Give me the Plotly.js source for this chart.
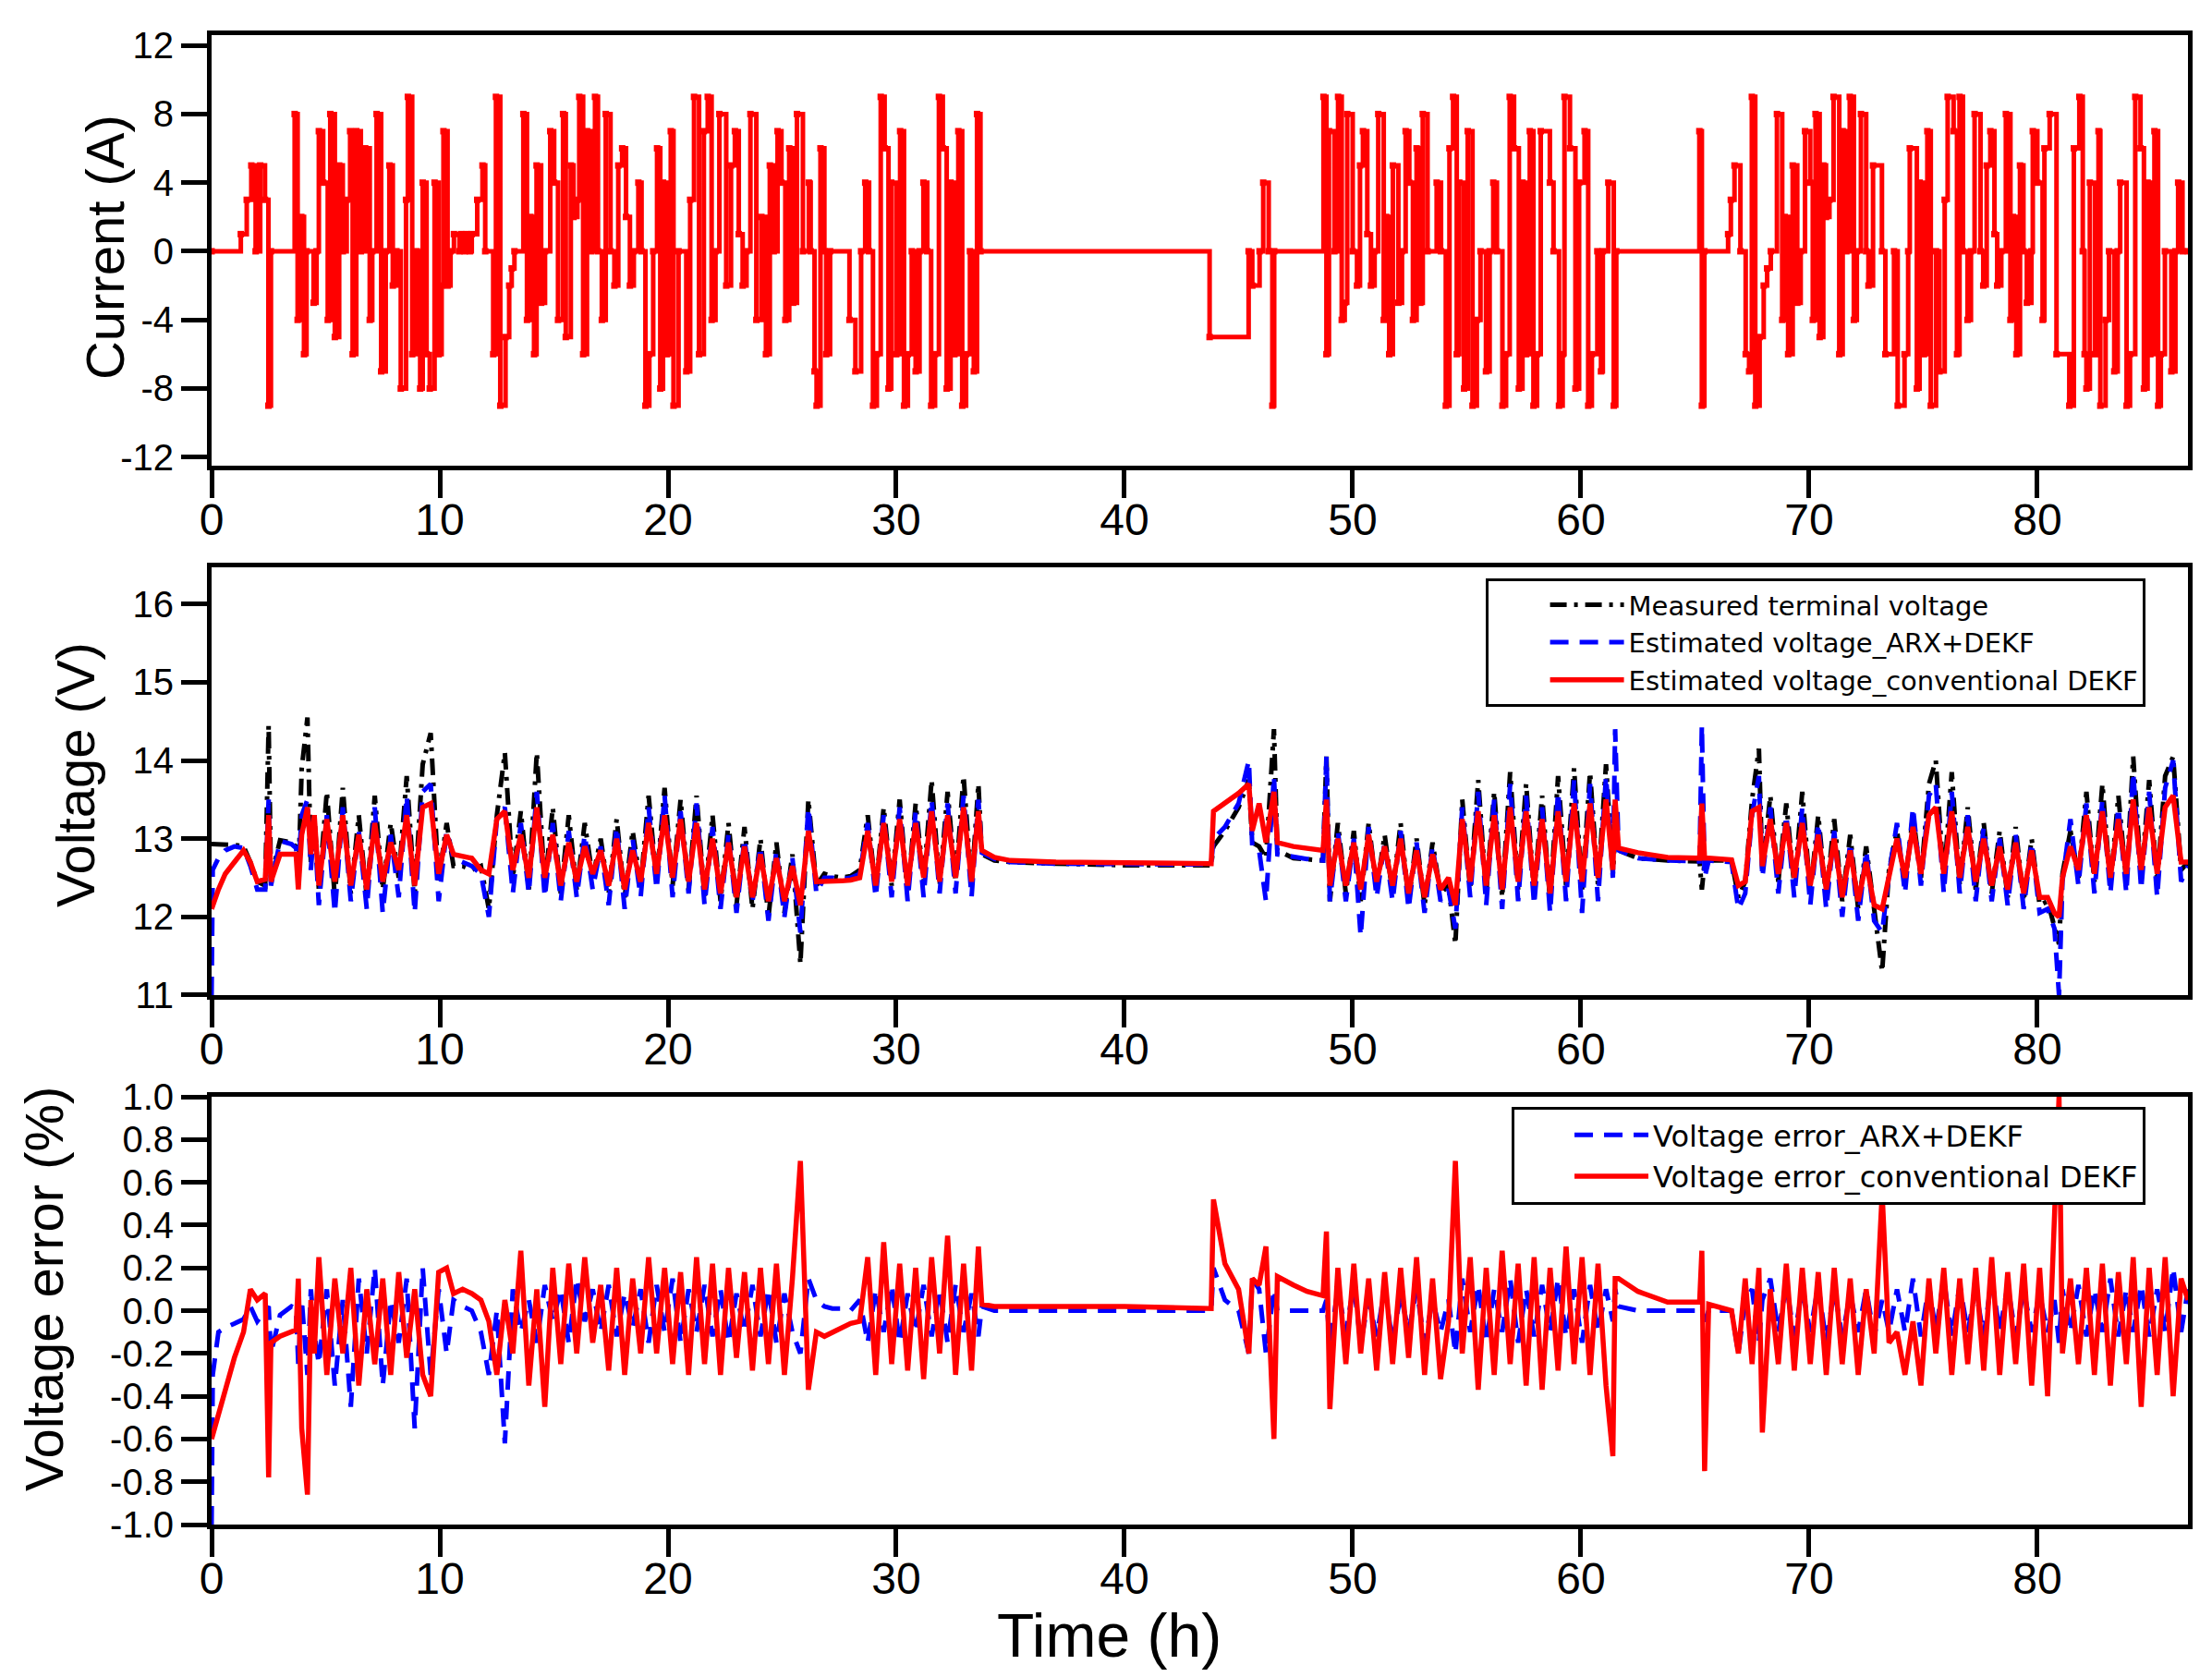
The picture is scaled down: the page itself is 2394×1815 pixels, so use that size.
<!DOCTYPE html>
<html>
<head>
<meta charset="utf-8">
<script src="https://cdn.plot.ly/plotly-3.0.1.min.js"></script>
<style>html,body{margin:0;padding:0;background:#fff}#chart{width:2394px;height:1815px}</style>
</head>
<body>
<div id="chart"></div>
<script>
// ---------- Current profile (A), step signal ----------
const timeCurrent = [
0, 1.28, 1.54, 1.74, 1.93, 2.13, 2.34, 2.49, 2.6, 3.64,
3.77, 3.93, 4.05, 4.16, 4.47, 4.6, 4.7, 4.89, 5.09, 5.2,
5.4, 5.59, 5.75, 5.92, 6.07, 6.18, 6.34, 6.54, 6.73, 6.93,
7.04, 7.23, 7.43, 7.63, 7.79, 7.94, 8.1, 8.29, 8.52, 8.6,
8.79, 8.99, 9.14, 9.25, 9.42, 9.56, 9.77, 9.95, 10.08, 10.16,
10.34, 10.47, 10.62, 10.86, 10.93, 11.09, 11.17, 11.32, 11.4, 11.64,
11.87, 11.99, 12.34, 12.46, 12.65, 12.88, 13.04, 13.15, 13.27, 13.66,
13.82, 13.97, 14.13, 14.24, 14.44, 14.61, 14.84, 15.01, 15.18, 15.40,
15.52, 15.74, 15.86, 16.03, 16.11, 16.28, 16.45, 16.63, 16.80, 16.93,
17.10, 17.27, 17.48, 17.65, 17.82, 17.99, 18.16, 18.33, 18.50, 18.70,
18.84, 19.01, 19.18, 19.35, 19.52, 19.66, 19.78, 19.95, 20.12, 20.24,
20.46, 20.80, 20.97, 21.14, 21.36, 21.57, 21.74, 21.91, 22.08, 22.25,
22.55, 22.76, 22.93, 23.10, 23.27, 23.44, 23.61, 23.87, 24.09, 24.29,
24.46, 24.63, 24.80, 24.97, 25.14, 25.31, 25.48, 25.65, 25.91, 26.17,
26.25, 26.42, 26.51, 26.68, 26.85, 26.93, 27.10, 27.95, 28.21, 28.46,
28.64, 28.81, 28.98, 29.15, 29.32, 29.49, 29.66, 29.78, 30.00, 30.17,
30.34, 30.51, 30.68, 30.85, 31.02, 31.19, 31.36, 31.53, 31.70, 31.87,
32.04, 32.21, 32.38, 32.55, 32.72, 32.89, 33.06, 33.23, 33.40, 33.54,
33.69, 43.73, 45.44, 45.60, 45.92, 46.08, 46.32, 46.48, 46.56, 48.72,
48.85, 48.96, 49.20, 49.36, 49.52, 49.65, 49.76, 50.00, 50.19, 50.32,
50.45, 50.64, 50.80, 50.96, 51.12, 51.36, 51.47, 51.60, 51.76, 52.00,
52.16, 52.32, 52.48, 52.64, 52.80, 52.96, 53.07, 53.28, 53.68, 53.87,
54.08, 54.24, 54.40, 54.56, 54.67, 54.88, 55.04, 55.25, 55.44, 55.60,
55.84, 56.00, 56.16, 56.32, 56.56, 56.72, 56.88, 57.07, 57.28, 57.44,
57.60, 57.76, 57.92, 58.08, 58.24, 58.64, 58.80, 59.04, 59.20, 59.28,
59.52, 59.76, 59.92, 60.16, 60.32, 60.48, 60.72, 60.88, 60.96, 61.20,
61.44, 61.55, 65.19, 65.30, 65.41, 66.45, 66.57, 66.73, 66.99, 67.22,
67.37, 67.49, 67.64, 67.83, 68.01, 68.16, 68.32, 68.59, 68.82, 68.93,
69.08, 69.28, 69.48, 69.63, 69.82, 70.05, 70.16, 70.28, 70.46, 70.62,
70.74, 70.89, 71.07, 71.32, 71.47, 71.63, 71.78, 71.96, 72.09, 72.27,
72.50, 72.60, 72.80, 73.19, 73.34, 73.72, 73.88, 74.18, 74.34, 74.41,
74.72, 74.84, 75.03, 75.18, 75.33, 75.56, 75.71, 75.94, 76.07, 76.33,
76.48, 76.59, 76.74, 76.94, 77.09, 77.25, 77.51, 77.63, 77.78, 77.94,
78.12, 78.24, 78.42, 78.62, 78.82, 78.93, 79.08, 79.24, 79.39, 79.54,
79.74, 79.80, 80.00, 80.23, 80.31, 80.54, 80.84, 81.40, 81.60,
81.84, 81.99, 82.07, 82.15, 82.30, 82.53, 82.68, 82.76, 82.99, 83.14,
83.37, 83.52, 83.63, 83.91, 84.06, 84.29, 84.52, 84.67, 84.83, 84.95,
85.13, 85.29, 85.41, 85.59, 85.87, 86.05, 86.17, 86.36, 86.6
];
const current = [
0, 1, 3, 5, 0, 5, 3, -9, 0, 8,
-4, 2, -6, 0, -3, 0, 7, 4, -4, 8,
-5, 5, 0, 3, 7, -6, 7, 0, 6, -4,
0, 8, -7, 0, 5, -2, 0, -8, 3, 9,
-6, 0, -8, 4, -6, -8, 4, -6, -2, 7,
-2, 0, 1, 0, 1, 0, 1, 0, 1, 3,
5, 0, -6, 9, -9, -5, -2, -1, 0, 8,
-4, 2, -6, 5, -3, 0, 7, 4, -4, 8,
-5, 5, 2, 3, 9, -6, 7, 0, 9, 0,
-4, 8, 0, -2, 5, 6, 2, -2, 0, 4,
0, -9, -6, 0, 6, -8, 4, -6, 7, -9,
0, -7, 3, 9, -6, 7, 9, -4, 0, 8,
-2, 5, 7, 1, -2, 0, 8, -4, 2, -6,
5, 0, 7, 4, -4, 6, -3, 8, 0, 4,
0, -7, -9, 6, 0, -6, 0, -4, -7, 0,
4, 0, -9, -6, 9, 6, -8, 4, -6, 7,
-9, -6, 0, -7, 0, 4, 0, -9, -6, 9,
6, -8, 4, -6, 7, -9, -6, 0, -7, 8,
0, -5, 0, -2, 0, 4, 0, -9, 0, 9,
-6, 7, 0, 9, -4, -3, 8, 0, -2, 5,
7, 1, -2, 0, 8, -4, 2, -6, 5, -3,
0, 7, 4, -4, 6, -3, 8, 0, 4, 0,
-9, 6, 9, -6, 4, -8, 7, -9, -4, 0,
-7, 0, 4, 0, -9, -6, 9, 6, -8, 4,
-6, 7, -9, -6, 7, 4, 0, -9, -6, 9,
6, -8, 4, 7, -9, -6, 0, -7, 0, 4,
-9, 0, 7, -9, 0, 1, 3, 5, 0, -6,
-7, 9, -9, -5, -2, -1, 0, 8, -4, 2,
-6, 5, -3, 0, 7, 4, -4, 8, -5, 5,
2, 3, 9, -6, 7, 0, 9, -4, 0, 8,
0, -2, 5, 0, -6, 0, -9, -6, 0, 6,
-8, 4, -6, 7, -9, 0, -7, 3, 9, 7,
-6, 9, 0, -4, 0, 8, 0, -2, 5, 7,
1, -2, 0, 8, -4, 2, -6, 5, 0, -3,
0, 7, 4, -4, 6, 8, -6, -9, 6,
9, 0, -6, -8, 4, -6, 7, -9, -4, 0,
-7, 0, 4, -9, -6, 9, 6, -8, 4, -6,
7, -9, -6, 0, -7, 0, 4, 0, 0
];

// ---------- Voltage and voltage error, shared time base (h) ----------
const timeV = [
0, 0.05, 0.3, 0.6, 1.0, 1.4, 1.7, 2.0, 2.35, 2.5,
2.6, 3.0, 3.5, 3.7, 3.8, 3.95, 4.2, 4.35, 4.5, 4.7,
5.05, 5.4, 5.75, 6.1, 6.45, 6.8, 7.15, 7.5, 7.85, 8.2,
8.55, 8.9, 9.25, 9.6, 9.95, 10.3, 10.6, 11.0, 11.4, 11.8,
12.15, 12.5, 12.85, 13.2, 13.55, 13.9, 14.25, 14.6, 14.95, 15.3,
15.65, 16.0, 16.35, 16.7, 17.05, 17.4, 17.75, 18.1, 18.45, 18.8,
19.15, 19.5, 19.85, 20.2, 20.55, 20.9, 21.25, 21.6, 21.95, 22.3,
22.65, 23.0, 23.35, 23.7, 24.05, 24.4, 24.75, 25.1, 25.45, 25.8,
26.15, 26.5, 26.85, 27.2, 27.6, 28.0, 28.4, 28.75, 29.1, 29.45,
29.8, 30.15, 30.5, 30.85, 31.2, 31.55, 31.9, 32.25, 32.6, 32.95,
33.3, 33.6, 33.75, 34.3, 35.0, 37.0, 40.0, 43.8, 43.9, 44.4,
45.0, 45.45, 45.6, 45.9, 46.2, 46.55, 46.7, 47.4, 48.0, 48.7,
48.85, 49.0, 49.35, 49.7, 50.05, 50.35, 50.7, 51.05, 51.4, 51.75,
52.1, 52.45, 52.8, 53.15, 53.5, 53.85, 54.2, 54.5, 54.8, 55.15,
55.5, 55.85, 56.2, 56.55, 56.9, 57.25, 57.6, 57.95, 58.3, 58.65,
59.0, 59.35, 59.7, 60.05, 60.4, 60.75, 61.1, 61.4, 61.5, 61.65,
62.5, 63.8, 65.2, 65.3, 65.42, 65.6, 66.6, 66.9, 67.2, 67.5,
67.8, 67.95, 68.3, 68.65, 69.0, 69.35, 69.7, 70.05, 70.4, 70.75,
71.1, 71.45, 71.8, 72.15, 72.5, 72.85, 73.2, 73.5, 73.85, 74.2,
74.55, 74.9, 75.25, 75.55, 75.9, 76.25, 76.6, 76.95, 77.3, 77.65,
78.0, 78.35, 78.7, 79.05, 79.4, 79.75, 80.1, 80.45, 80.75, 80.95,
81.1, 81.45, 81.8, 82.15, 82.5, 82.85, 83.2, 83.55, 83.9, 84.2,
84.55, 84.9, 85.25, 85.6, 85.95, 86.3, 86.6
];
const vMeasured = [
12.93, 12.93, 12.93, 12.93, 12.92, 12.90, 12.70, 12.45, 12.40, 14.45,
12.50, 12.98, 12.95, 12.90, 12.50, 13.90, 14.55, 12.70, 13.30, 12.35,
13.60, 12.25, 13.65, 12.30, 13.30, 12.25, 13.55, 12.35, 13.20, 12.50,
13.80, 12.30, 13.95, 14.35, 12.45, 13.20, 12.65, 12.65, 12.60, 12.65,
12.10, 13.30, 14.10, 12.50, 13.35, 12.35, 14.10, 12.40, 13.40, 12.30,
13.30, 12.35, 13.20, 12.50, 13.00, 12.30, 13.25, 12.25, 13.10, 12.40,
13.55, 12.45, 13.65, 12.40, 13.50, 12.35, 13.55, 12.25, 13.30, 12.20,
13.20, 12.15, 13.15, 12.10, 13.00, 12.00, 12.95, 12.05, 12.80, 11.40,
13.50, 12.40, 12.55, 12.52, 12.50, 12.52, 12.60, 13.30, 12.35, 13.40,
12.40, 13.50, 12.30, 13.45, 12.45, 13.75, 12.40, 13.60, 12.45, 13.80,
12.40, 13.70, 12.80, 12.72, 12.70, 12.68, 12.66, 12.66, 12.90, 13.10,
13.40, 13.75, 12.95, 12.90, 12.75, 14.40, 12.85, 12.75, 12.73, 12.72,
14.05, 12.20, 13.20, 12.30, 13.10, 12.20, 13.20, 12.35, 13.05, 12.30,
13.20, 12.20, 13.00, 12.15, 12.95, 12.30, 12.40, 11.65, 13.50, 12.35,
13.75, 12.30, 13.60, 12.25, 13.85, 12.35, 13.70, 12.30, 13.55, 12.20,
13.80, 12.40, 13.90, 12.35, 13.85, 12.40, 13.95, 12.55, 13.05, 12.85,
12.75, 12.72, 12.71, 12.35, 12.70, 12.72, 12.72, 12.25, 12.45, 13.50,
14.15, 12.60, 13.55, 12.45, 13.45, 12.40, 13.60, 12.30, 13.30, 12.25,
13.25, 12.20, 13.05, 12.10, 12.90, 12.05, 11.30, 12.60, 13.10, 12.40,
13.30, 12.50, 13.70, 14.00, 12.45, 13.85, 12.40, 13.40, 12.35, 13.20,
12.30, 13.10, 12.25, 13.15, 12.20, 13.00, 12.15, 12.20, 11.90, 11.65,
12.55, 13.10, 12.50, 13.60, 12.45, 13.70, 12.40, 13.55, 12.45, 14.05,
12.50, 13.75, 12.45, 13.80, 14.05, 12.60, 12.70
];
const vArxDekf = [
11.00, 12.60, 12.75, 12.85, 12.90, 12.88, 12.65, 12.35, 12.35, 13.50,
12.40, 12.97, 12.93, 12.88, 12.60, 13.30, 13.50, 12.60, 13.20, 12.15,
13.30, 12.05, 13.40, 12.20, 13.10, 12.10, 13.40, 12.05, 13.05, 12.25,
13.55, 12.05, 13.60, 13.70, 12.20, 13.10, 12.75, 12.70, 12.65, 12.55,
12.00, 13.25, 13.40, 12.30, 13.20, 12.30, 13.60, 12.25, 13.20, 12.20,
13.10, 12.25, 13.05, 12.35, 12.90, 12.15, 13.15, 12.10, 13.00, 12.25,
13.40, 12.35, 13.55, 12.25, 13.35, 12.30, 13.45, 12.15, 13.15, 12.10,
13.05, 12.05, 13.00, 12.20, 12.90, 11.95, 12.85, 12.00, 12.75, 11.80,
13.40, 12.30, 12.50, 12.50, 12.48, 12.50, 12.55, 13.20, 12.25, 13.30,
12.25, 13.40, 12.20, 13.35, 12.25, 13.50, 12.30, 13.45, 12.30, 13.55,
12.25, 13.50, 12.82, 12.74, 12.70, 12.68, 12.67, 12.67, 13.00, 13.15,
13.45, 14.00, 12.90, 12.85, 12.20, 13.80, 12.80, 12.76, 12.74, 12.72,
14.05, 12.20, 13.10, 12.20, 13.00, 11.75, 13.15, 12.25, 12.95, 12.20,
13.10, 12.10, 12.95, 12.05, 12.90, 12.20, 12.35, 11.85, 13.40, 12.25,
13.60, 12.15, 13.50, 12.10, 13.70, 12.20, 13.55, 12.15, 13.40, 12.05,
13.60, 12.20, 13.75, 12.05, 13.70, 12.20, 13.80, 12.50, 14.40, 12.85,
12.75, 12.72, 12.71, 14.45, 12.50, 12.72, 12.70, 12.10, 12.30, 13.30,
13.80, 12.50, 13.40, 12.30, 13.30, 12.25, 13.40, 12.15, 13.20, 12.10,
13.10, 12.00, 12.95, 11.95, 12.85, 11.95, 11.80, 12.55, 13.20, 12.30,
13.40, 12.40, 13.55, 13.70, 12.30, 13.60, 12.30, 13.30, 12.20, 13.15,
12.20, 13.00, 12.15, 13.05, 12.10, 12.95, 12.05, 12.10, 11.85, 11.00,
12.45, 13.25, 12.40, 13.45, 12.30, 13.50, 12.30, 13.40, 12.30, 13.85,
12.35, 13.60, 12.25, 13.65, 14.00, 12.45, 12.65
];
const vConvDekf = [
12.10, 12.15, 12.35, 12.55, 12.70, 12.85, 12.70, 12.45, 12.48, 13.30,
12.45, 12.80, 12.80, 12.80, 12.35, 13.05, 13.40, 12.80, 13.30, 12.40,
13.25, 12.45, 13.30, 12.40, 13.05, 12.35, 13.20, 12.45, 12.95, 12.60,
13.30, 12.40, 13.40, 13.45, 12.55, 13.05, 12.80, 12.78, 12.75, 12.60,
12.55, 13.25, 13.35, 12.60, 13.05, 12.50, 13.40, 12.50, 13.05, 12.40,
12.95, 12.45, 12.90, 12.55, 12.85, 12.40, 13.00, 12.35, 12.85, 12.45,
13.20, 12.55, 13.30, 12.50, 13.25, 12.45, 13.20, 12.35, 13.00, 12.30,
12.95, 12.25, 12.90, 12.25, 12.80, 12.20, 12.75, 12.20, 12.65, 12.15,
13.10, 12.45, 12.45, 12.46, 12.46, 12.47, 12.50, 13.10, 12.40, 13.20,
12.45, 13.25, 12.40, 13.20, 12.50, 13.35, 12.45, 13.30, 12.50, 13.40,
12.45, 13.35, 12.85, 12.76, 12.72, 12.70, 12.69, 12.68, 13.35, 13.45,
13.58, 13.70, 13.10, 13.45, 12.95, 13.60, 12.95, 12.90, 12.87, 12.85,
13.50, 12.40, 13.00, 12.40, 12.95, 12.35, 13.05, 12.45, 12.90, 12.40,
13.00, 12.30, 12.85, 12.25, 12.80, 12.35, 12.50, 12.15, 13.25, 12.45,
13.35, 12.40, 13.30, 12.35, 13.40, 12.45, 13.35, 12.40, 13.25, 12.30,
13.35, 12.45, 13.45, 12.45, 13.45, 12.50, 13.50, 12.60, 13.50, 12.88,
12.82, 12.76, 12.75, 13.45, 12.75, 12.75, 12.73, 12.40, 12.45, 13.35,
13.40, 12.65, 13.25, 12.55, 13.20, 12.50, 13.20, 12.40, 13.05, 12.35,
13.00, 12.25, 12.85, 12.20, 12.70, 12.15, 12.10, 12.50, 13.00, 12.50,
13.15, 12.55, 13.30, 13.40, 12.55, 13.35, 12.50, 13.15, 12.45, 13.00,
12.40, 12.90, 12.35, 12.95, 12.30, 12.85, 12.25, 12.25, 12.05, 12.00,
12.50, 12.90, 12.60, 13.30, 12.55, 13.35, 12.50, 13.25, 12.55, 13.50,
12.60, 13.40, 12.55, 13.40, 13.55, 12.70, 12.70
];
const errArxDekf = [
-1.00, -0.30, -0.10, -0.08, -0.06, -0.04, 0.02, -0.05, 0.00, 0.02,
-0.20, -0.02, 0.02, 0.01, -0.25, 0.05, -0.30, 0.10, -0.10, -0.25,
0.10, -0.35, 0.05, -0.45, 0.15, -0.20, 0.20, -0.35, 0.05, -0.15,
0.15, -0.55, 0.20, -0.30, 0.10, -0.20, 0.05, 0.02, 0.00, -0.10,
-0.30, 0.00, -0.62, 0.10, -0.10, 0.05, -0.15, 0.12, -0.05, 0.10,
-0.15, 0.15, -0.05, 0.10, -0.10, 0.12, -0.12, 0.08, -0.08, 0.10,
-0.15, 0.12, -0.10, 0.15, -0.15, 0.10, -0.10, 0.12, -0.12, 0.10,
-0.15, 0.08, -0.10, 0.12, -0.12, 0.10, -0.15, 0.08, -0.10, -0.20,
0.15, 0.05, 0.02, 0.01, 0.01, 0.00, 0.05, -0.15, 0.10, -0.10,
0.12, -0.15, 0.08, -0.10, 0.12, -0.12, 0.10, -0.15, 0.12, -0.10,
0.08, -0.12, 0.02, 0.00, 0.00, 0.00, 0.00, 0.00, 0.20, 0.05,
0.00, -0.20, 0.15, 0.10, -0.20, 0.10, 0.00, 0.00, 0.00, 0.00,
0.05, -0.15, 0.10, -0.10, 0.12, -0.15, 0.05, -0.12, 0.10, -0.15,
0.08, -0.10, 0.10, -0.15, 0.05, -0.10, 0.05, -0.20, 0.15, -0.10,
0.12, -0.15, 0.10, -0.10, 0.15, -0.15, 0.10, -0.12, 0.12, -0.10,
0.15, -0.12, 0.10, -0.15, 0.12, -0.10, 0.10, -0.05, 0.10, 0.02,
0.00, 0.00, 0.00, 0.00, -0.05, 0.00, 0.00, -0.20, 0.05, 0.10,
-0.15, 0.05, 0.15, -0.10, 0.12, -0.12, 0.10, -0.10, 0.12, -0.15,
0.10, -0.12, 0.08, -0.10, 0.10, -0.12, 0.05, -0.10, 0.10, -0.10,
0.15, -0.12, 0.12, -0.10, 0.15, -0.12, 0.12, -0.10, 0.10, -0.12,
0.15, -0.10, 0.12, -0.12, 0.10, -0.10, 0.08, -0.10, 0.05, -0.15,
0.10, -0.10, 0.12, -0.12, 0.10, -0.10, 0.15, -0.12, 0.10, -0.10,
0.12, -0.12, 0.10, -0.10, 0.20, -0.10, 0.10
];
const errConvDekf = [
-0.60, -0.58, -0.48, -0.36, -0.22, -0.10, 0.10, 0.05, 0.08, -0.78,
-0.15, -0.12, -0.10, -0.09, 0.15, -0.55, -0.86, 0.05, -0.20, 0.25,
-0.30, 0.15, -0.20, 0.20, -0.35, 0.10, -0.25, 0.15, -0.30, 0.18,
-0.22, 0.10, -0.30, -0.40, 0.18, 0.20, 0.08, 0.10, 0.08, 0.05,
-0.05, -0.30, 0.05, -0.20, 0.28, -0.35, 0.10, -0.45, 0.20, -0.25,
0.22, -0.20, 0.25, -0.15, 0.12, -0.28, 0.20, -0.30, 0.15, -0.20,
0.25, -0.20, 0.20, -0.25, 0.18, -0.30, 0.25, -0.25, 0.22, -0.30,
0.20, -0.22, 0.18, -0.28, 0.20, -0.25, 0.22, -0.30, 0.15, 0.70,
-0.37, -0.10, -0.12, -0.10, -0.08, -0.06, -0.05, 0.25, -0.30, 0.32,
-0.25, 0.22, -0.28, 0.20, -0.32, 0.25, -0.20, 0.35, -0.30, 0.22,
-0.28, 0.30, 0.03, 0.02, 0.02, 0.02, 0.02, 0.01, 0.52, 0.22,
0.10, -0.20, 0.15, 0.12, 0.30, -0.60, 0.16, 0.12, 0.09, 0.07,
0.37, -0.46, 0.20, -0.25, 0.22, -0.20, 0.15, -0.28, 0.18, -0.25,
0.20, -0.22, 0.25, -0.30, 0.15, -0.32, -0.05, 0.70, -0.20, 0.25,
-0.37, 0.20, -0.30, 0.28, -0.25, 0.22, -0.35, 0.25, -0.37, 0.20,
-0.28, 0.30, -0.25, 0.25, -0.30, 0.22, -0.35, -0.68, 0.15, 0.15,
0.09, 0.04, 0.04, 0.28, -0.75, 0.03, 0.00, -0.20, 0.15, -0.25,
0.20, -0.57, 0.10, -0.25, 0.22, -0.28, 0.20, -0.25, 0.18, -0.30,
0.20, -0.25, 0.15, -0.30, 0.10, -0.20, 0.55, -0.15, -0.10, -0.30,
-0.05, -0.35, 0.15, -0.20, 0.20, -0.30, 0.15, -0.25, 0.20, -0.28,
0.25, -0.30, 0.18, -0.25, 0.22, -0.35, 0.20, -0.40, 0.45, 1.00,
-0.20, 0.15, -0.25, 0.20, -0.30, 0.22, -0.35, 0.18, -0.25, 0.25,
-0.45, 0.20, -0.30, 0.25, -0.40, 0.15, 0.05
];

// ---------- Tick labels ----------
const timeTicks = [0, 10, 20, 30, 40, 50, 60, 70, 80];
const currentTicks = [-12, -8, -4, 0, 4, 8, 12];
const currentTickText = ['-12', '-8', '-4', '0', '4', '8', '12'];
const voltageTicks = [11, 12, 13, 14, 15, 16];
const errorTicks = [-1, -0.8, -0.6, -0.4, -0.2, 0, 0.2, 0.4, 0.6, 0.8, 1];
const errorTickText = ['-1.0', '-0.8', '-0.6', '-0.4', '-0.2', '0.0', '0.2', '0.4', '0.6', '0.8', '1.0'];

const FONT = 'Arial, "Liberation Sans", sans-serif';
const LEGEND_FONT = '"DejaVu Sans", Arial, sans-serif';

const traces = [
  {x: timeCurrent, y: current, xaxis: 'x', yaxis: 'y', type: 'scatter', mode: 'lines+markers',
   line: {color: '#ff0000', width: 5, shape: 'hv'},
   marker: {symbol: 'square', size: 7, color: '#ff0000'},
   showlegend: false, name: 'Current'},
  {x: timeV, y: vMeasured, xaxis: 'x2', yaxis: 'y2', type: 'scatter', mode: 'lines',
   line: {color: '#000000', width: 5, dash: '18px,8px,4px,8px'},
   name: 'Measured terminal voltage', legend: 'legend'},
  {x: timeV, y: vArxDekf, xaxis: 'x2', yaxis: 'y2', type: 'scatter', mode: 'lines',
   line: {color: '#0000ff', width: 5, dash: '20px,12px'},
   name: 'Estimated voltage_ARX+DEKF', legend: 'legend'},
  {x: timeV, y: vConvDekf, xaxis: 'x2', yaxis: 'y2', type: 'scatter', mode: 'lines',
   line: {color: '#ff0000', width: 5.5},
   name: 'Estimated voltage_conventional DEKF', legend: 'legend'},
  {x: timeV, y: errArxDekf, xaxis: 'x3', yaxis: 'y3', type: 'scatter', mode: 'lines',
   line: {color: '#0000ff', width: 5, dash: '20px,12px'},
   name: 'Voltage error_ARX+DEKF', legend: 'legend2'},
  {x: timeV, y: errConvDekf, xaxis: 'x3', yaxis: 'y3', type: 'scatter', mode: 'lines',
   line: {color: '#ff0000', width: 5.5},
   name: 'Voltage error_conventional DEKF', legend: 'legend2'}
];

function xAxis(anchor) {
  return {
    anchor: anchor, range: [0, 86.6], tickvals: timeTicks, ticks: 'outside',
    ticklen: 30, tickwidth: 5, tickcolor: '#000', showline: true, linewidth: 5,
    linecolor: '#000', mirror: true, showgrid: false, zeroline: false,
    tickfont: {family: FONT, size: 48, color: '#000'}, ticklabelstandoff: -18
  };
}
function yAxis(anchor, domain, range, vals, text) {
  const a = {
    anchor: anchor, domain: domain, range: range, tickvals: vals, ticks: 'outside',
    ticklen: 28, tickwidth: 5, tickcolor: '#000', showline: true, linewidth: 5,
    linecolor: '#000', mirror: true, showgrid: false, zeroline: false,
    tickfont: {family: FONT, size: 40, color: '#000'}, ticklabelstandoff: 0
  };
  if (text) a.ticktext = text;
  return a;
}

const legendCommon = {
  xanchor: 'left', yanchor: 'top', bgcolor: '#ffffff', bordercolor: '#000000',
  borderwidth: 3, itemwidth: 80, tracegroupgap: 0
};

const layout = {
  width: 2394, height: 1815,
  margin: {l: 229, r: 26, t: 38, b: 165, pad: 0},
  paper_bgcolor: '#ffffff', plot_bgcolor: '#ffffff',
  font: {family: FONT, color: '#000'},
  showlegend: true,
  xaxis: Object.assign(xAxis('y'), {domain: [0, 1]}),
  xaxis2: Object.assign(xAxis('y2'), {domain: [0, 1]}),
  xaxis3: Object.assign(xAxis('y3'), {domain: [0, 1]}),
  yaxis: yAxis('x', [0.7109, 1.0], [-12.5, 12.6], currentTicks, currentTickText),
  yaxis2: yAxis('x2', [0.3555, 0.6427], [11, 16.47], voltageTicks, null),
  yaxis3: yAxis('x3', [0, 0.2872], [-1, 1], errorTicks, errorTickText),
  legend: Object.assign({}, legendCommon, {x: 0.6445, y: 0.6352, indentation: 62,
    font: {family: LEGEND_FONT, size: 29, color: '#000'}}),
  legend2: Object.assign({}, legendCommon, {x: 0.6578, y: 0.2804, indentation: 60,
    font: {family: LEGEND_FONT, size: 32, color: '#000'}}),
  annotations: [
    {text: 'Current (A)', xref: 'paper', yref: 'paper', x: -0.0542, y: 0.8573,
     xanchor: 'center', yanchor: 'middle', textangle: -90, showarrow: false,
     font: {family: FONT, size: 58, color: '#000'}},
    {text: 'Voltage (V)', xref: 'paper', yref: 'paper', x: -0.0692, y: 0.5037,
     xanchor: 'center', yanchor: 'middle', textangle: -90, showarrow: false,
     font: {family: FONT, size: 58, color: '#000'}},
    {text: 'Voltage error (%)', xref: 'paper', yref: 'paper', x: -0.0846, y: 0.1582,
     xanchor: 'center', yanchor: 'middle', textangle: -90, showarrow: false,
     font: {family: FONT, size: 58, color: '#000'}},
    {text: 'Time (h)', xref: 'paper', yref: 'paper', x: 0.454, y: -0.0745,
     xanchor: 'center', yanchor: 'middle', showarrow: false,
     font: {family: FONT, size: 66, color: '#000'}}
  ]
};

Plotly.newPlot('chart', traces, layout, {displayModeBar: false, staticPlot: true});
</script>
</body>
</html>
